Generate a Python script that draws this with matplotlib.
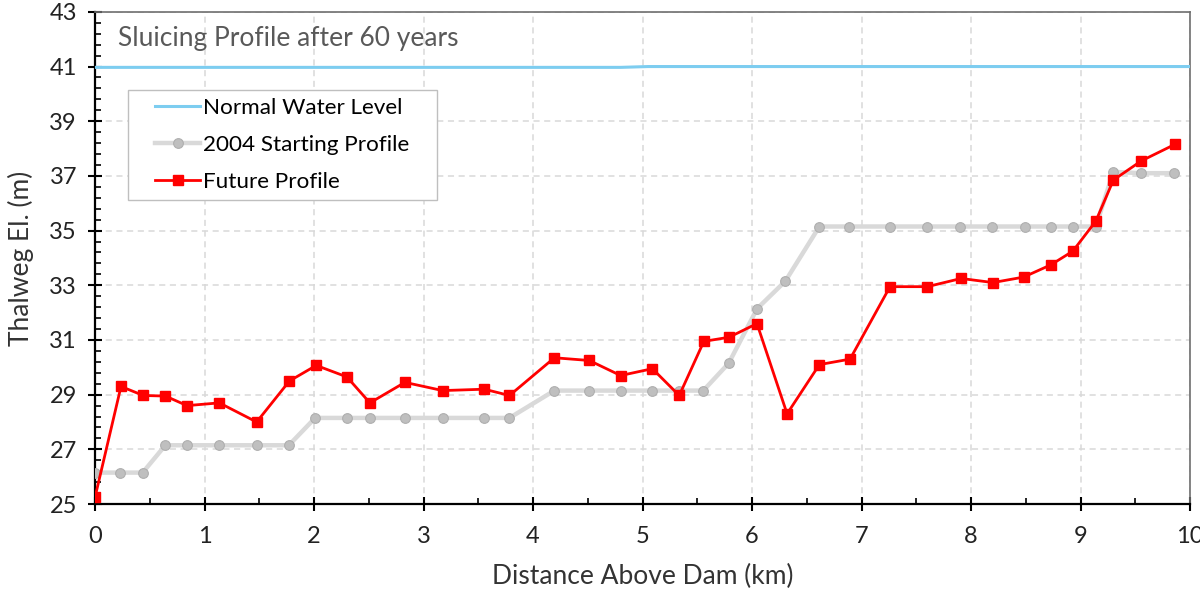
import matplotlib
matplotlib.use("Agg")
import matplotlib.pyplot as plt
from matplotlib.patches import Rectangle
from matplotlib.ticker import MultipleLocator

plt.rcParams['font.family'] = ['Lato', 'DejaVu Sans']

# 정상 수위 (Normal Water Level)
water_x = [0, 4.8, 5.05, 10]
water_y = [40.97, 40.97, 41.0, 41.0]

# 2004 시작 하상 (Starting Profile)
start_x = [0, 0.228, 0.435, 0.642, 0.84, 1.135, 1.476, 1.77, 2.01, 2.3, 2.51, 2.83,
           3.175, 3.555, 3.785, 4.195, 4.514, 4.8, 5.085, 5.33, 5.555, 5.787, 6.047,
           6.304, 6.615, 6.89, 7.26, 7.6, 7.9, 8.195, 8.49, 8.73, 8.93, 9.14, 9.3,
           9.55, 9.85]
start_y = [26.15, 26.15, 26.15, 27.15, 27.15, 27.15, 27.15, 27.15, 28.15, 28.15, 28.15,
           28.15, 28.15, 28.15, 28.15, 29.15, 29.15, 29.15, 29.15, 29.15, 29.15, 30.15,
           32.15, 33.15, 35.15, 35.15, 35.15, 35.15, 35.15, 35.15, 35.15, 35.15, 35.15,
           35.15, 37.15, 37.1, 37.1]

# 미래 하상 (Future Profile)
future_x = [0, 0.237, 0.441, 0.642, 0.84, 1.135, 1.476, 1.775, 2.02, 2.3, 2.51, 2.83,
            3.175, 3.555, 3.785, 4.195, 4.514, 4.8, 5.09, 5.335, 5.56, 5.79, 6.045,
            6.32, 6.615, 6.895, 7.26, 7.6, 7.91, 8.2, 8.48, 8.73, 8.93, 9.14, 9.3,
            9.555, 9.86]
future_y = [25.25, 29.3, 28.97, 28.95, 28.6, 28.7, 28.0, 29.5, 30.07, 29.65, 28.7, 29.45,
            29.15, 29.2, 28.97, 30.35, 30.25, 29.7, 29.95, 28.97, 30.95, 31.1, 31.6,
            28.3, 30.1, 30.3, 32.95, 32.95, 33.25, 33.1, 33.3, 33.75, 34.25, 35.35,
            36.85, 37.55, 38.15]

fig = plt.figure(figsize=(12, 5.93), dpi=100)
ax = fig.add_axes([0.0792, 0.15, 0.9125, 0.83])

ax.plot(water_x, water_y, color='#7DCDF0', lw=2.2, label='Normal Water Level', zorder=3)
ax.plot(start_x, start_y, color='#D9D9D9', lw=3.2, marker='o', ms=7,
        mfc='#BFBFBF', mec='#AFAFAF', mew=0.8, label='2004 Starting Profile', zorder=4)
ax.plot(future_x, future_y, color='#FF0000', lw=2.0, marker='s', ms=7,
        mfc='#FF0000', mec='#FF0000', label='Future Profile', zorder=5)

ax.set_xlim(0, 10)
ax.set_ylim(25, 43)
ax.xaxis.set_major_locator(MultipleLocator(1))
ax.xaxis.set_minor_locator(MultipleLocator(0.5))
ax.yaxis.set_major_locator(MultipleLocator(2, offset=1))
ax.yaxis.set_minor_locator(MultipleLocator(0.4, offset=1))

ax.grid(True, which='major', color='#D9D9D9', ls=(0, (4, 3)), lw=1.1)
ax.set_axisbelow(True)

ax.tick_params(which='major', direction='inout', length=10, width=1.5,
               labelsize=17, colors='black', labelcolor='#222222', pad=8)
ax.tick_params(axis='x', which='major', pad=11)
ax.tick_params(which='minor', direction='in', length=4, width=1.2)

for s in ['left', 'bottom']:
    ax.spines[s].set_linewidth(1.6)
    ax.spines[s].set_color('black')
for s in ['top', 'right']:
    ax.spines[s].set_linewidth(1.2)
    ax.spines[s].set_color('#6E6E6E')

ax.set_xlabel('Distance Above Dam (km)', fontsize=19, color='#333333', labelpad=12)
ax.set_ylabel('Thalweg El. (m)', fontsize=19, color='#333333', labelpad=11)

ax.text(0.021, 0.945, 'Sluicing Profile after 60 years', transform=ax.transAxes,
        fontsize=19, color='#595959', va='center', ha='left')

# 범례 테두리 (Excel 스타일, 왼쪽 여백이 넓음)
ax.add_patch(Rectangle((0.0301, 0.6179), 0.2822, 0.2236, transform=ax.transAxes,
                       facecolor='white', edgecolor='#BFBFBF', lw=1.0, zorder=6))

leg = ax.legend(loc='upper left', bbox_to_anchor=(0.0548, 0.826), borderaxespad=0,
                fontsize=16.2, frameon=False, handlelength=2.0, handletextpad=0.15,
                borderpad=0, labelspacing=0.77)
leg.set_zorder(7)

fig.savefig('out.png', dpi=100)
